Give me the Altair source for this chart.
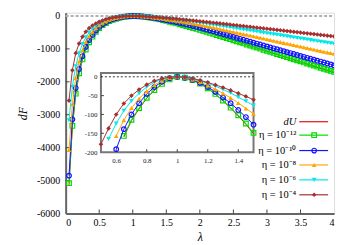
import altair as alt
import pandas as pd

# ---------------- data ----------------
lam = [0.05, 0.10, 0.15, 0.20, 0.25, 0.30, 0.35, 0.40, 0.45, 0.50,
       0.55, 0.60, 0.65, 0.70, 0.75, 0.80, 0.85, 0.90, 0.95, 1.00,
       1.05, 1.10, 1.15, 1.20, 1.25, 1.30, 1.35, 1.40, 1.45, 1.50,
       1.55, 1.60, 1.65, 1.70, 1.75, 1.80, 1.85, 1.90, 1.95, 2.00,
       2.05, 2.10, 2.15, 2.20, 2.25, 2.30, 2.35, 2.40, 2.45, 2.50,
       2.55, 2.60, 2.65, 2.70, 2.75, 2.80, 2.85, 2.90, 2.95, 3.00,
       3.05, 3.10, 3.15, 3.20, 3.25, 3.30, 3.35, 3.40, 3.45, 3.50,
       3.55, 3.60, 3.65, 3.70, 3.75, 3.80, 3.85, 3.90, 3.95, 4.00]

F_eta4 = [-2570, -1650, -1130, -840, -630, -480, -370, -290, -228, -179,
          -137, -100, -71, -50, -34, -21, -11, -4.5, -1, 0,
          -1.2, -4.5, -9.5, -15, -21.5, -28.5, -36, -44, -52, -61,
          -71, -80, -90, -100, -110, -120, -130, -141, -151, -162,
          -172, -183, -194, -205, -216, -227, -238, -250, -261, -273,
          -285, -296, -308, -319, -331, -343, -354, -366, -377, -389,
          -401, -412, -424, -435, -447, -459, -470, -482, -493, -505,
          -517, -528, -540, -551, -563, -575, -586, -598, -609, -621]

F_eta6 = [-3170, -2150, -1530, -1130, -850, -650, -505, -390, -297, -222,
          -165, -124, -90, -64, -44, -27, -14.5, -6.5, -1.5, 0,
          -1.5, -5.5, -11, -17.5, -25, -33.5, -43, -54, -65, -76,
          -87, -99, -111, -123, -136, -149, -162, -176, -190, -204,
          -218, -233, -249, -264, -280, -296, -312, -329, -345, -361,
          -377, -393, -410, -426, -442, -458, -474, -491, -507, -523,
          -539, -555, -572, -588, -604, -620, -636, -653, -669, -685,
          -701, -717, -734, -750, -766, -782, -798, -815, -831, -847]

F_eta8 = [-4070, -2680, -1880, -1380, -1040, -790, -615, -478, -368, -276,
          -208, -157, -115, -83, -58, -38, -22, -10.5, -3, 0,
          -2, -7, -14, -23, -33, -44, -56, -69.5, -84, -98,
          -113, -128, -144, -161, -178, -195, -213, -231, -250, -269,
          -289, -309, -330, -351, -373, -395, -418, -440, -462, -484,
          -506, -529, -551, -573, -595, -617, -640, -662, -684, -706,
          -728, -751, -773, -795, -817, -839, -862, -884, -906, -928,
          -950, -973, -995, -1017, -1039, -1061, -1084, -1106, -1128, -1150]

F_eta10 = [-4850, -3140, -2190, -1610, -1220, -940, -735, -575, -445, -333,
           -255, -192, -139, -100, -70, -45.5, -27, -13, -4, 0,
           -2.5, -8, -16, -27, -40, -55, -70, -88, -107, -127,
           -148, -169, -190, -213, -235, -259, -282, -307, -332, -357,
           -383, -410, -437, -465, -493, -522, -551, -579, -608, -637,
           -666, -695, -723, -752, -781, -810, -839, -867, -896, -925,
           -954, -983, -1011, -1040, -1069, -1098, -1127, -1155, -1184, -1213,
           -1242, -1271, -1299, -1328, -1357, -1386, -1415, -1443, -1472, -1501]

F_eta12 = [-5080, -3340, -2360, -1740, -1320, -1020, -800, -628, -485, -365,
           -280, -212, -157, -114, -83, -56, -35, -19, -7, 0,
           -2.5, -9, -18, -30.5, -45.5, -63, -82, -102, -124, -149,
           -174, -200, -227, -253, -281, -308, -336, -365, -394, -423,
           -453, -483, -514, -545, -577, -609, -641, -673, -705, -737,
           -769, -801, -834, -866, -898, -930, -962, -994, -1026, -1058,
           -1090, -1122, -1155, -1187, -1219, -1251, -1283, -1315, -1347, -1379,
           -1411, -1443, -1476, -1508, -1540, -1572, -1604, -1636, -1668, -1700]

lam_dU = [0.05, 0.10, 0.15, 0.20, 0.25, 0.30, 0.35, 0.40, 0.45, 0.50,
          0.55, 0.60, 0.65, 0.70, 0.75, 0.80, 0.85, 0.90, 0.95, 1.00,
          1.05, 1.10, 1.15, 1.20, 1.25, 1.30, 1.35, 1.40, 1.45, 1.50,
          1.75, 2.00, 2.50, 3.00, 3.50, 4.00]
F_dU = [-5150, -3380, -2390, -1765, -1340, -1035, -812, -638, -492, -371,
        -285, -216, -160, -116, -85, -57, -36, -19.5, -7, 0,
        -2.5, -9, -18.5, -31, -46, -64, -83, -104, -126, -151,
        -285, -430, -748, -1074, -1400, -1725]

legend_labels = ["dU", "η = 10⁻¹²", "η = 10⁻¹⁰", "η = 10⁻⁸", "η = 10⁻⁶", "η = 10⁻⁴"]

x_ticks = [0, 0.5, 1, 1.5, 2, 2.5, 3, 3.5, 4]
y_ticks = [-6000, -5000, -4000, -3000, -2000, -1000, 0]
x_ticks_in = [0.6, 0.8, 1, 1.2, 1.4]
y_ticks_in = [-200, -150, -100, -50, 0]

# ---------------- layout / style ----------------
W, H = 270, 202
FONT = "Liberation Serif"

# series: label, lambdas, values, colour, shape, filled
series = [
    (legend_labels[0], lam_dU, F_dU, "#e81010", None, True),
    (legend_labels[1], lam, F_eta12, "#00dd00", "square", False),
    (legend_labels[2], lam, F_eta10, "#1414ff", "circle", False),
    (legend_labels[3], lam, F_eta8, "#ffa500", "triangle-up", True),
    (legend_labels[4], lam, F_eta6, "#00e8e8", "triangle-down", True),
    (legend_labels[5], lam, F_eta4, "#a83030", "diamond", True),
]

# main plot scales/axes
xs = alt.Scale(domain=[0, 4], nice=False, zero=False)
ys = alt.Scale(domain=[-6000, 100], nice=False, zero=False)
ax_x = alt.Axis(values=x_ticks, labelExpr="'' + datum.value", title="λ",
                tickSize=0, grid=False, domainColor="#666", domainWidth=2,
                labelFont=FONT, labelFontSize=10, labelColor="black", labelPadding=4,
                titleFont=FONT, titleFontSize=12, titleFontStyle="italic",
                titleFontWeight="normal", titleColor="black", titlePadding=4)
ax_y = alt.Axis(values=y_ticks, labelExpr="'' + datum.value", title="dF",
                tickSize=0, grid=False, domainColor="#666", domainWidth=2,
                labelFont=FONT, labelFontSize=10, labelColor="black", labelPadding=6,
                titleFont=FONT, titleFontSize=12, titleFontStyle="italic",
                titleFontWeight="normal", titleColor="black", titlePadding=7)


def MX():
    return alt.X("lam:Q", scale=xs, axis=ax_x)


def MY():
    return alt.Y("F:Q", scale=ys, axis=ax_y)


# inset scales/axes (pixel range inside the main plot area)
IX0, IX1 = 35.5, 189.0
IYB, IYT = 140.3, 60.7
xs_in = alt.Scale(domain=[0.5, 1.5], range=[IX0, IX1], nice=False, zero=False)
ys_in = alt.Scale(domain=[-200, 10], range=[IYB, IYT], nice=False, zero=False)
ax_xi = alt.Axis(orient="bottom", offset=IYB - H, values=x_ticks_in,
                 labelExpr="'' + datum.value", title=None, tickSize=0, domain=False,
                 grid=False, labelFont=FONT, labelFontSize=7, labelColor="#222",
                 labelPadding=4)
ax_yi = alt.Axis(orient="left", offset=-IX0, values=y_ticks_in,
                 labelExpr="'' + datum.value", title=None, tickSize=0, domain=False,
                 grid=False, labelFont=FONT, labelFontSize=7, labelColor="#222",
                 labelPadding=4)


def IX():
    return alt.X("lam:Q", scale=xs_in, axis=ax_xi)


def IY():
    return alt.Y("F:Q", scale=ys_in, axis=ax_yi)


# ---------------- main plot ----------------
main_layers = []
zero_df = pd.DataFrame({"lam": [0, 4], "F": [0, 0]})
main_layers.append(
    alt.Chart(zero_df).mark_line(color="#b0b0b0", strokeWidth=2, strokeDash=[3, 2])
    .encode(x=MX(), y=MY())
)
xt_df = pd.DataFrame({"lam": x_ticks[1:-1]})
main_layers.append(
    alt.Chart(xt_df).mark_rule(color="#444", strokeWidth=1)
    .encode(x=MX(), y=alt.value(H), y2=alt.value(H - 4))
)
yt_df = pd.DataFrame({"F": y_ticks[1:-1]})
main_layers.append(
    alt.Chart(yt_df).mark_rule(color="#444", strokeWidth=1)
    .encode(y=MY(), x=alt.value(0), x2=alt.value(4))
)

for label, lx, ly, col, shape, filled in series:
    df = pd.DataFrame({"lam": lx, "F": ly})
    main_layers.append(
        alt.Chart(df).mark_line(color=col, strokeWidth=1, clip=True)
        .encode(x=MX(), y=MY(), order="lam:Q")
    )
    if shape:
        main_layers.append(
            alt.Chart(df).mark_point(shape=shape, filled=filled, color=col, size=22,
                                     strokeWidth=1.2, opacity=1, clip=True)
            .encode(x=MX(), y=MY())
        )

# legend (drawn inside the plot, bottom-right)
leg_y = [109.7, 123.2, 138.7, 153.2, 168.2, 183.2]
one = pd.DataFrame({"a": [0]})
for i, (label, lx, ly, col, shape, filled) in enumerate(series):
    yy = leg_y[i]
    main_layers.append(
        alt.Chart(one).mark_text(text=label, align="right", baseline="middle",
                                 font=FONT, fontSize=10.5, color="black",
                                 fontStyle="italic" if i == 0 else "normal")
        .encode(x=alt.value(232), y=alt.value(yy))
    )
    main_layers.append(
        alt.Chart(one).mark_rule(color=col, strokeWidth=1.2)
        .encode(x=alt.value(235), x2=alt.value(264), y=alt.value(yy))
    )
    if shape:
        main_layers.append(
            alt.Chart(one).mark_point(shape=shape, filled=filled, color=col, size=22,
                                      strokeWidth=1.2, opacity=1)
            .encode(x=alt.value(250), y=alt.value(yy))
        )

main = alt.layer(*main_layers)

# ---------------- inset ----------------
inset_layers = []
frame_df = pd.DataFrame({"lam": [0.5], "lam2": [1.5], "F": [-200], "F2": [10]})
inset_layers.append(
    alt.Chart(frame_df).mark_rect(fill="white", stroke="#777", strokeWidth=2)
    .encode(x=IX(), x2="lam2:Q", y=IY(), y2="F2:Q")
)
zero_in = pd.DataFrame({"lam": [0.5, 1.5], "F": [0, 0]})
inset_layers.append(
    alt.Chart(zero_in).mark_line(color="black", strokeWidth=0.8, strokeDash=[2, 2])
    .encode(x=IX(), y=IY())
)
xti_df = pd.DataFrame({"lam": x_ticks_in})
inset_layers.append(
    alt.Chart(xti_df).mark_rule(color="#444", strokeWidth=1)
    .encode(x=IX(), y=alt.value(IYB), y2=alt.value(IYB - 3))
)
yti_df = pd.DataFrame({"F": y_ticks_in[1:-1]})
inset_layers.append(
    alt.Chart(yti_df).mark_rule(color="#444", strokeWidth=1)
    .encode(y=IY(), x=alt.value(IX0), x2=alt.value(IX0 + 3))
)
for label, lx, ly, col, shape, filled in series:
    df = pd.DataFrame({"lam": lx, "F": ly})
    df = df[(df["lam"] >= 0.5) & (df["lam"] <= 1.5) & (df["F"] >= -200)]
    inset_layers.append(
        alt.Chart(df).mark_line(color=col, strokeWidth=1)
        .encode(x=IX(), y=IY(), order="lam:Q")
    )
    if shape:
        inset_layers.append(
            alt.Chart(df).mark_point(shape=shape, filled=filled, color=col, size=22,
                                     strokeWidth=1.2, opacity=1)
            .encode(x=IX(), y=IY())
        )
inset = alt.layer(*inset_layers)

chart = (
    alt.layer(main, inset)
    .resolve_scale(x="independent", y="independent")
    .resolve_axis(x="independent", y="independent")
    .properties(width=W, height=H,
                autosize=alt.AutoSizeParams(type="none"),
                padding={"left": 58, "top": 4, "right": 8, "bottom": 31})
    .configure_view(stroke="black", strokeWidth=1)
    .configure(background="white")
)

chart.save("out.html", embed_options={"renderer": "svg", "actions": False})
